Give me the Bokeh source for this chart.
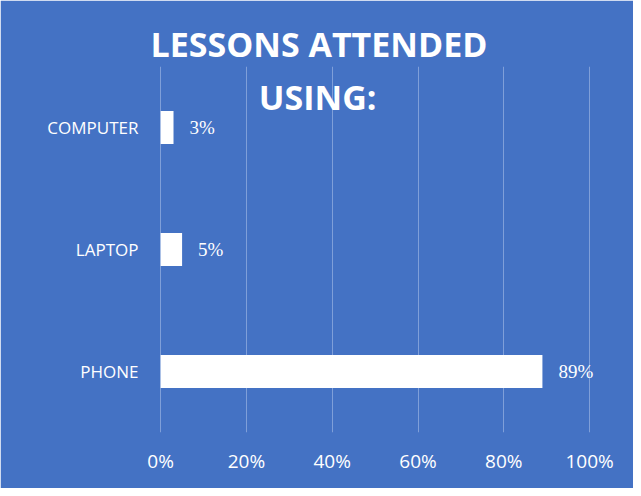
from bokeh.plotting import figure
from bokeh.models import ColumnDataSource, Range1d, FactorRange, NumeralTickFormatter, FixedTicker, Label, LabelSet
from bokeh.embed import file_html
from bokeh.resources import INLINE

categories = ["PHONE", "LAPTOP", "COMPUTER"]
values = [0.89, 0.05, 0.03]
value_labels = ["89%", "5%", "3%"]
ticks = [0, 0.2, 0.4, 0.6, 0.8, 1.0]
title_lines = ["LESSONS ATTENDED", "USING:"]

BG = "#4472C4"
FONT = "Open Sans"

src = ColumnDataSource(dict(cat=categories, val=values, lab=value_labels))

p = figure(width=633, height=488, output_backend="svg", toolbar_location=None,
           y_range=FactorRange(*categories), x_range=Range1d(-0.005, 1.1),
           min_border_left=158, min_border_right=1, min_border_top=66, min_border_bottom=56)
p.background_fill_color = BG
p.border_fill_color = BG
p.outline_line_color = BG
p.outline_line_width = 2

p.title.text = title_lines[0]
p.title.align = "left"
p.title.offset = -8
p.title.standoff = 0
p.title.text_color = "white"
p.title.text_font = FONT
p.title.text_font_style = "bold"
p.title.text_font_size = "34px"

p.hbar(y="cat", right="val", left=0, height=0.27, source=src, fill_color="white", line_color=None)

p.add_layout(LabelSet(x="val", y="cat", text="lab", source=src, x_offset=16,
                      text_align="left", text_baseline="middle", text_color="white",
                      text_font=FONT, text_font_size="19px"))

p.xgrid.grid_line_color = "#7F9FD9"
p.xgrid.grid_line_width = 1
p.ygrid.grid_line_color = None

p.xaxis.ticker = FixedTicker(ticks=ticks)
p.xaxis.formatter = NumeralTickFormatter(format="0%")
for ax in (p.xaxis[0], p.yaxis[0]):
    ax.axis_line_color = None
    ax.major_tick_line_color = None
    ax.minor_tick_line_color = None
    ax.major_tick_out = 0
    ax.major_tick_in = 0
    ax.major_label_text_color = "white"
    ax.major_label_text_font = FONT
p.xaxis.major_label_text_font_size = "19px"
p.xaxis.major_label_standoff = 15
p.yaxis.major_label_text_font_size = "17px"
p.yaxis.major_label_standoff = 20

p.add_layout(Label(x=0.366, y=336, y_units="screen", text=title_lines[1],
                   text_align="center", text_baseline="middle", text_color="white",
                   text_font=FONT, text_font_style="bold", text_font_size="34px"))

open("out.html", "w").write(file_html(p, INLINE))
